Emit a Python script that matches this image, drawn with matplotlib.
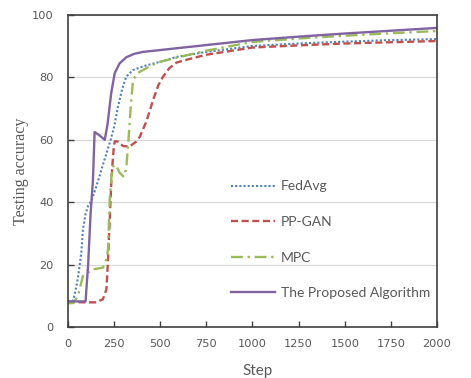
import matplotlib
matplotlib.use('Agg')
import matplotlib.pyplot as plt

# values
fedavg_x = [0, 30, 54, 73, 82, 95, 109, 127, 154, 190, 227, 250, 272, 295, 317, 353, 420, 498, 589, 750, 1000, 1250, 1500, 1750, 2000]
fedavg_y = [8.2, 8.5, 15.3, 23.8, 31.3, 36, 38.7, 40.3, 45, 52, 59, 64, 70.7, 76.5, 80.3, 82.4, 83.8, 85, 86.6, 88.2, 90.1, 90.9, 91.5, 92, 92.3]

ppgan_x = [0, 100, 154, 190, 209, 217, 227, 236, 241, 248, 254, 270, 300, 335, 372, 390, 426, 462, 490, 516, 550, 589, 650, 750, 1000, 1250, 1500, 1750, 2000]
ppgan_y = [8, 7.9, 7.9, 8.9, 12.1, 20.7, 34.5, 47.3, 51.5, 57, 59.5, 59.5, 58, 57.9, 59.5, 61, 66, 72.8, 77.5, 80.3, 83, 84.8, 85.8, 87.3, 89.6, 90.3, 90.9, 91.3, 91.7]

mpc_x = [0, 30, 55, 82, 136, 190, 209, 218, 227, 236, 245, 260, 280, 300, 308, 318, 326, 340, 353, 380, 408, 450, 498, 600, 750, 1000, 1250, 1500, 1750, 2000]
mpc_y = [7.6, 7.7, 10, 16.4, 18.5, 19, 21.7, 25, 40.9, 48, 51.5, 52, 49.5, 48.3, 48.3, 52, 57.9, 70, 79.2, 81.5, 82.4, 83.8, 85, 86.5, 88.6, 91.4, 92.5, 93.4, 94.2, 94.9]

prop_x = [0, 50, 96, 110, 123, 136, 145, 170, 200, 215, 235, 254, 280, 317, 360, 407, 500, 750, 1000, 1250, 1500, 1750, 2000]
prop_y = [8.2, 8.2, 8.2, 20, 36, 47, 62.5, 61.5, 60, 65, 75, 81.4, 84.5, 86.5, 87.6, 88.2, 88.8, 90.4, 92, 93.1, 94.1, 95, 95.9]

xticks = [0, 250, 500, 750, 1000, 1250, 1500, 1750, 2000]
yticks = [0, 20, 40, 60, 80, 100]

gray = '#595959'
fig = plt.figure(figsize=(4.71, 3.78), dpi=100)
ax = fig.add_axes([0.144, 0.135, 0.784, 0.825])

ax.plot(fedavg_x, fedavg_y, color='#4F81BD', linestyle=(0, (1, 1)), linewidth=1.5, label='FedAvg')
ax.plot(ppgan_x, ppgan_y, color='#C0504D', linestyle=(0, (3, 1.5)), linewidth=1.7, label='PP-GAN')
ax.plot(mpc_x, mpc_y, color='#9BBB59', linestyle=(0, (5, 2, 1, 2)), linewidth=1.7, label='MPC')
ax.plot(prop_x, prop_y, color='#8064A2', linestyle='-', linewidth=1.7, label='The Proposed Algorithm')

ax.set_xlim(0, 2000)
ax.set_ylim(0, 100)
ax.set_xticks(xticks)
ax.set_yticks(yticks)
ax.grid(axis='y', color='#D9D9D9', linewidth=0.9)
ax.set_axisbelow(True)
for s in ax.spines.values():
    s.set_color('#404040')
    s.set_linewidth(1.2)
ax.tick_params(direction='in', length=4, width=1, color='#404040', labelcolor=gray, labelsize=8.2)
ax.tick_params(axis='y', pad=10)
ax.tick_params(axis='x', pad=9)
for t in ax.get_xticklabels() + ax.get_yticklabels():
    t.set_family('DejaVu Sans')

ax.set_xlabel('Step', fontsize=11, color=gray, family='Lato')
ax.xaxis.set_label_coords(0.515, -0.12)
ax.set_ylabel('Testing accuracy', fontsize=11.5, color=gray, family='Liberation Serif')
ax.yaxis.set_label_coords(-0.106, 0.5)

leg = ax.legend(loc='upper left', bbox_to_anchor=(0.408, 0.51), frameon=False, labelspacing=1.7,
                handlelength=3.2, handletextpad=0.4, prop={'family': 'Lato', 'size': 10})
for t in leg.get_texts():
    t.set_color(gray)

fig.savefig('out.png', dpi=100)
